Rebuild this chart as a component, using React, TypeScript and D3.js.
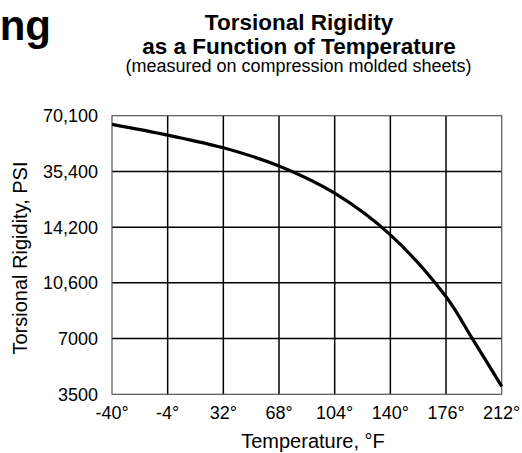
import React, {useRef, useEffect} from 'react'
import * as d3 from 'd3'

const tempTicks = [-40, -4, 32, 68, 104, 140, 176, 212]
const psiTicks = [70100, 35400, 14200, 10600, 7000, 3500]
const psiTickLabels = ['70,100', '35,400', '14,200', '10,600', '7000', '3500']

// curve (°F, PSI)
const curveTemps = [-40, -4, 32, 68, 104, 140, 176, 193, 212]
const curvePsi = [64700, 58000, 50100, 38800, 27100, 13700, 9700, 7000, 4000]

const FONT = '"Liberation Sans", Arial, Helvetica, sans-serif'

export default function App() {
  const plotRef = useRef<SVGGElement>(null)
  const margin = {top: 115.7, right: 20.3, bottom: 58.7, left: 112}
  const width = 522
  const height = 453

  useEffect(() => {
    const g = d3.select(plotRef.current)
    g.selectAll('*').remove()

    const top = margin.top
    const bottom = height - margin.bottom
    const xScale = d3
      .scaleLinear()
      .domain([tempTicks[0], tempTicks[tempTicks.length - 1]])
      .range([margin.left, width - margin.right])
    // evenly spaced, piecewise scale through the printed tick values
    const yScale = d3
      .scaleLinear()
      .domain(psiTicks)
      .range(psiTicks.map((d, i) => top + (i * (bottom - top)) / (psiTicks.length - 1)))

    // inner grid
    g.selectAll('.vgrid')
      .data(tempTicks.slice(1, -1))
      .join('line')
      .attr('x1', d => xScale(d))
      .attr('x2', d => xScale(d))
      .attr('y1', top)
      .attr('y2', bottom)
      .attr('stroke', '#000')
      .attr('stroke-width', 1.5)
    g.selectAll('.hgrid')
      .data(psiTicks.slice(1, -1))
      .join('line')
      .attr('x1', margin.left)
      .attr('x2', width - margin.right)
      .attr('y1', d => yScale(d))
      .attr('y2', d => yScale(d))
      .attr('stroke', '#000')
      .attr('stroke-width', 1.5)

    // frame
    g.append('rect')
      .attr('x', margin.left)
      .attr('y', top)
      .attr('width', width - margin.right - margin.left)
      .attr('height', bottom - top)
      .attr('fill', 'none')
      .attr('stroke', '#555')
      .attr('stroke-width', 1.2)

    // curve
    const line = d3
      .line<number>()
      .x((d, i) => xScale(curveTemps[i]))
      .y(d => yScale(d))
      .curve(d3.curveCatmullRom.alpha(0.5))
    g.append('path')
      .attr('d', line(curvePsi))
      .attr('fill', 'none')
      .attr('stroke', '#000')
      .attr('stroke-width', 3.2)

    // x tick labels
    g.selectAll('.xlab')
      .data(tempTicks)
      .join('text')
      .attr('x', d => xScale(d))
      .attr('y', 419)
      .attr('text-anchor', 'middle')
      .style('font-family', FONT)
      .style('font-size', '18px')
      .text(d => d + '°')

    // y tick labels
    g.selectAll('.ylab')
      .data(psiTicks)
      .join('text')
      .attr('x', 98)
      .attr('y', d => yScale(d) + 6.4)
      .attr('text-anchor', 'end')
      .style('font-family', FONT)
      .style('font-size', '18px')
      .text((d, i) => psiTickLabels[i])

    g.append('text')
      .attr('x', 313)
      .attr('y', 448)
      .attr('text-anchor', 'middle')
      .style('font-family', FONT)
      .style('font-size', '20px')
      .text('Temperature, °F')

    g.append('text')
      .attr('transform', `translate(27,${(top + bottom) / 2 + 3}) rotate(-90)`)
      .attr('text-anchor', 'middle')
      .style('font-family', FONT)
      .style('font-size', '20px')
      .text('Torsional Rigidity, PSI')
  }, [])

  return (
    <svg
      width={width}
      height={height}
      style={{position: 'absolute', left: 0, top: 0, background: '#fff'}}
    >
      <text x={51} y={40} textAnchor="end" fontFamily={FONT} fontWeight="bold" fontSize="42px">
        ng
      </text>
      <text x={299} y={30} textAnchor="middle" fontFamily={FONT} fontWeight="bold" fontSize="22.5px">
        Torsional Rigidity
      </text>
      <text x={299} y={53.5} textAnchor="middle" fontFamily={FONT} fontWeight="bold" fontSize="22.5px">
        as a Function of Temperature
      </text>
      <text x={298.5} y={72} textAnchor="middle" fontFamily={FONT} fontSize="18px">
        (measured on compression molded sheets)
      </text>
      <g ref={plotRef} />
    </svg>
  )
}
